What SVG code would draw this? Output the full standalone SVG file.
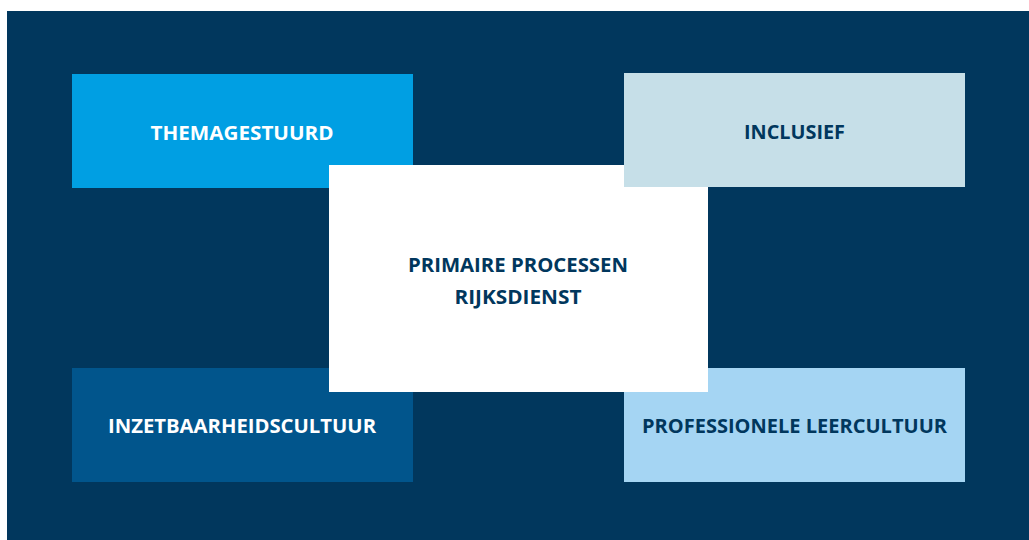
<svg xmlns="http://www.w3.org/2000/svg" width="1029" height="540" viewBox="0 0 1029 540">
<style>
text{font-family:"Open Sans","Liberation Sans",sans-serif;font-weight:700;font-size:20px;text-anchor:middle}
.lt{fill:#ffffff}
.dk{fill:#01375d}
</style>
<rect x="0" y="0" width="1029" height="540" fill="#ffffff"/>
<rect x="7" y="11" width="1022" height="529" fill="#01375d"/>
<g id="themagestuurd"><rect x="72" y="74" width="341" height="114" fill="#009fe3"/><text class="lt" x="242" y="140" textLength="183" lengthAdjust="spacingAndGlyphs">THEMAGESTUURD</text></g>
<g id="inzetbaarheidscultuur"><rect x="72" y="368" width="341" height="114" fill="#01558c"/><text class="lt" x="242" y="433" textLength="268" lengthAdjust="spacingAndGlyphs">INZETBAARHEIDSCULTUUR</text></g>
<g id="professionele-leercultuur"><rect x="624" y="368" width="341" height="114" fill="#a5d5f3"/><text class="dk" x="794.5" y="433" textLength="305" lengthAdjust="spacingAndGlyphs">PROFESSIONELE LEERCULTUUR</text></g>
<g id="primaire-processen"><rect x="329" y="165" width="379" height="227" fill="#ffffff"/><text class="dk" x="518" y="272" textLength="220" lengthAdjust="spacingAndGlyphs">PRIMAIRE PROCESSEN</text><text class="dk" x="518" y="304" textLength="127" lengthAdjust="spacingAndGlyphs">RIJKSDIENST</text></g>
<g id="inclusief"><rect x="624" y="73" width="341" height="114" fill="#c6dfe8"/><text class="dk" x="794.5" y="139" textLength="101" lengthAdjust="spacingAndGlyphs">INCLUSIEF</text></g>
<g id="connectors"/>
</svg>
